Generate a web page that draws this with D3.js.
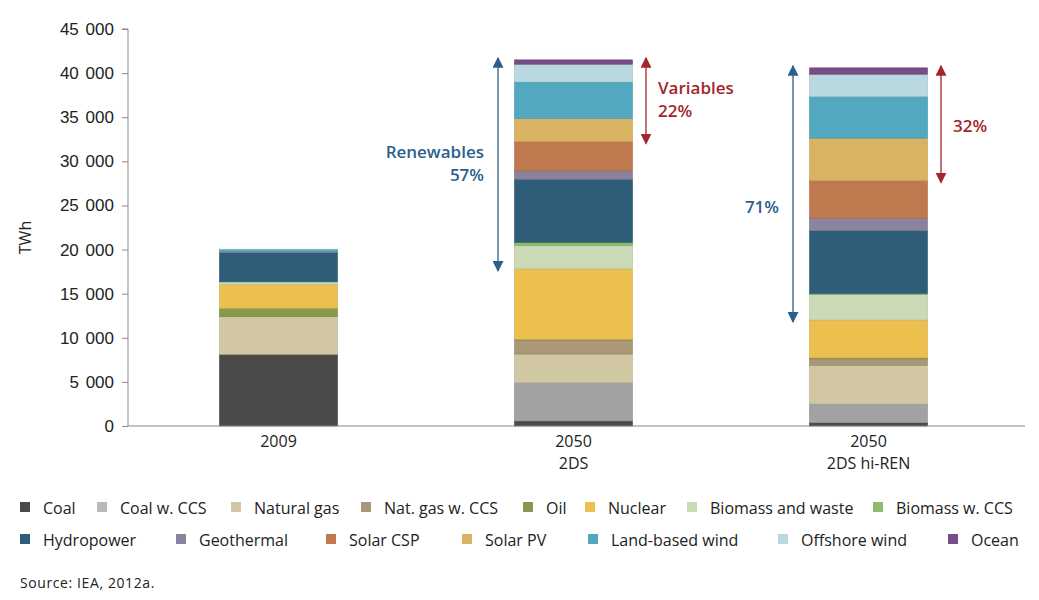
<!DOCTYPE html>
<html>
<head>
<meta charset="utf-8">
<script src="https://cdn.jsdelivr.net/npm/d3@7"></script>
<style>
  body { margin: 0; background: #fff; }
  svg { font-family: "Open Sans", "Noto Sans", sans-serif; }
</style>
</head>
<body>
<svg id="chart" width="1039" height="600"></svg>
<script>
// ---------------------------------------------------------------
// Data (TWh), bottom of stack first
// ---------------------------------------------------------------
const scenarios = ['2009', '2050 2DS', '2050 2DS hi-REN']
const scenarioLines = [['2009'], ['2050', '2DS'], ['2050', '2DS hi-REN']]

const sources = ['Coal', 'Coal w. CCS', 'Natural gas', 'Nat. gas w. CCS', 'Oil',
  'Nuclear', 'Biomass and waste', 'Biomass w. CCS', 'Hydropower', 'Geothermal',
  'Solar CSP', 'Solar PV', 'Land-based wind', 'Offshore wind', 'Ocean']

const coal       = [8130,  570,  375]
const coalCCS    = [   0, 4340, 2120]
const gas        = [4260, 3250, 4390]
const gasCCS     = [   0, 1590,  720]
const oil        = [ 950,   60,  110]
const nuclear    = [2700, 8000, 4300]
const biomass    = [ 300, 2640, 2910]
const biomassCCS = [   0,  370,  100]
const hydro      = [3330, 7150, 7120]
const geothermal = [  70,  940, 1410]
const solarCSP   = [   0, 3330, 4260]
const solarPV    = [  20, 2610, 4810]
const landWind   = [ 270, 4150, 4720]
const offWind    = [  10, 2010, 2530]
const ocean      = [   0,  490,  720]

const seriesValues = [coal, coalCCS, gas, gasCCS, oil, nuclear, biomass, biomassCCS,
  hydro, geothermal, solarCSP, solarPV, landWind, offWind, ocean]

const colors = ['#4a4a4a', '#a2a2a2', '#d1c8a3', '#a99777', '#87994f', '#ecbf4f',
  '#cbdab6', '#8dbc6b', '#2e5d7a', '#8a829f', '#c0794e', '#d7b362', '#52a8bf',
  '#b9d8df', '#7a4c87']
const legendColors = colors.slice()
legendColors[1] = '#b9b9b9'

const yTicks = [0, 5000, 10000, 15000, 20000, 25000, 30000, 35000, 40000, 45000]

// Annotations: bar, first series in span, last series in span, text lines
const annotations = [
  { bar: 1, from: 'Biomass and waste', to: 'Ocean', side: 'left', lines: ['Renewables', '57%'], color: '#2c5f8c' },
  { bar: 1, from: 'Solar PV', to: 'Ocean', side: 'right', lines: ['Variables', '22%'], color: '#a3262b' },
  { bar: 2, from: 'Biomass and waste', to: 'Ocean', side: 'left', lines: ['', '71%'], color: '#2c5f8c' },
  { bar: 2, from: 'Solar PV', to: 'Ocean', side: 'right', lines: ['', '32%'], color: '#a3262b' }
]

// Legend layout (x of each square, two rows)
const legendRows = [
  { y: 508, items: [0, 1, 2, 3, 4, 5, 6, 7], xs: [20, 97, 231, 361, 523, 585, 687, 873] },
  { y: 540, items: [8, 9, 10, 11, 12, 13, 14], xs: [20, 176, 326, 462, 588, 778, 948] }
]

// ---------------------------------------------------------------
// Scales
// ---------------------------------------------------------------
const svg = d3.select('#chart')
const AXIS_X = 128
const AXIS_END = 1025

const y = d3.scaleLinear().domain([0, 45000]).range([426, 29])
const x = d3.scaleBand().domain(scenarios).range([131, 1016])
  .paddingInner(0.6).paddingOuter(0.3)

const table = scenarios.map((s, i) => {
  const row = { scenario: s }
  sources.forEach((k, j) => { row[k] = seriesValues[j][i] })
  return row
})
const stacked = d3.stack().keys(sources)(table)

// ---------------------------------------------------------------
// Bars
// ---------------------------------------------------------------
svg.append('g')
  .selectAll('g')
  .data(stacked)
  .join('g')
  .attr('fill', (d, i) => colors[i])
  .attr('stroke', (d, i) => d3.color(colors[i]).darker(0.35))
  .attr('stroke-width', 0.6)
  .selectAll('rect')
  .data(d => d.filter(v => v[1] - v[0] > 0))
  .join('rect')
  .attr('x', d => x(d.data.scenario))
  .attr('width', x.bandwidth())
  .attr('y', d => y(d[1]))
  .attr('height', d => y(d[0]) - y(d[1]))

// ---------------------------------------------------------------
// Axes
// ---------------------------------------------------------------
const yAxis = svg.append('g')
  .attr('transform', `translate(${AXIS_X},0)`)
  .call(d3.axisLeft(y).tickValues(yTicks).tickSize(6).tickPadding(8)
    .tickFormat(d => d3.format(',')(d).replace(/,/g, '\u2009\u2009')))
yAxis.select('.domain').attr('stroke', '#8a8a8a').attr('d', `M-6,${y(45000)}H0V${y(0)}`)
yAxis.selectAll('.tick line').attr('stroke', '#8a8a8a')
yAxis.selectAll('.tick text').style('font-size', '17px').style('fill', '#222')

svg.append('line')
  .attr('x1', AXIS_X).attr('x2', AXIS_END)
  .attr('y1', y(0)).attr('y2', y(0))
  .attr('stroke', '#8a8a8a').attr('stroke-width', 1.2)

svg.append('text')
  .attr('transform', `translate(31,${(y(0) + y(45000)) / 2 + 10}) rotate(-90)`)
  .attr('text-anchor', 'middle')
  .style('font-size', '16px').style('fill', '#222')
  .text('TWh')

scenarios.forEach((s, i) => {
  scenarioLines[i].forEach((line, j) => {
    svg.append('text')
      .attr('x', x(s) + x.bandwidth() / 2)
      .attr('y', 447 + j * 22)
      .attr('text-anchor', 'middle')
      .style('font-size', '16px').style('fill', '#222')
      .text(line)
  })
})

// ---------------------------------------------------------------
// Annotations (double arrows)
// ---------------------------------------------------------------
const defs = svg.append('defs')
annotations.forEach((a, i) => {
  defs.append('marker')
    .attr('id', 'arr' + i)
    .attr('viewBox', '0 0 10 10')
    .attr('refX', 9).attr('refY', 5)
    .attr('markerWidth', 11).attr('markerHeight', 11)
    .attr('markerUnits', 'userSpaceOnUse')
    .attr('orient', 'auto-start-reverse')
    .append('path').attr('d', 'M0,0L10,5L0,10Z').attr('fill', a.color)

  const si = sources.indexOf(a.from)
  const ti = sources.indexOf(a.to)
  const bottom = stacked[si][a.bar][0]
  const top = stacked[ti][a.bar][1]
  const ax = a.side === 'left'
    ? x(scenarios[a.bar]) - 16.5
    : x(scenarios[a.bar]) + x.bandwidth() + 13.5
  const y1 = y(top) - 2
  const y2 = y(bottom) + 2

  svg.append('line')
    .attr('x1', ax).attr('x2', ax)
    .attr('y1', y1).attr('y2', y2)
    .attr('stroke', a.color).attr('stroke-width', 1.3)
    .attr('marker-start', `url(#arr${i})`)
    .attr('marker-end', `url(#arr${i})`)

  const mid = (y1 + y2) / 2
  const oneLine = a.lines[0] === ''
  const base = a.side === 'left'
    ? (oneLine ? mid - 4 : mid - 6)
    : (oneLine ? mid - 15 : mid - 7)
  a.lines.forEach((t, j) => {
    if (!t) return
    svg.append('text')
      .attr('x', a.side === 'left' ? ax - 14 : ax + 12)
      .attr('y', base + j * 23)
      .attr('text-anchor', a.side === 'left' ? 'end' : 'start')
      .style('font-size', '17px').style('font-weight', 600)
      .style('fill', a.color)
      .text(t)
  })
})

// ---------------------------------------------------------------
// Legend
// ---------------------------------------------------------------
legendRows.forEach(row => {
  row.items.forEach((k, j) => {
    const g = svg.append('g').attr('transform', `translate(${row.xs[j]},${row.y})`)
    g.append('rect')
      .attr('x', 0).attr('y', -6).attr('width', 10).attr('height', 10)
      .attr('fill', legendColors[k])
    g.append('text')
      .attr('x', 23).attr('y', 0).attr('dy', '0.35em')
      .style('font-size', '16px').style('fill', '#222')
      .text(sources[k])
  })
})

svg.append('text')
  .attr('x', 20).attr('y', 588)
  .style('font-size', '14px').style('fill', '#222')
  .style('letter-spacing', '0.6px')
  .text('Source: IEA, 2012a.')
</script>
</body>
</html>
